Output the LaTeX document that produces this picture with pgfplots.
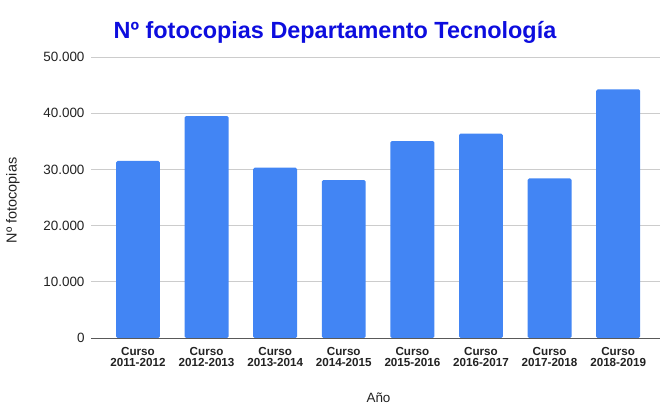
\documentclass[border=0pt]{standalone}
\usepackage{pgfplots}
\pgfplotsset{compat=1.18}
\usepackage{fontspec}
\setmainfont{Liberation Sans}
\definecolor{barblue}{HTML}{4285F4}
\definecolor{titleblue}{rgb}{0.05,0.05,0.87}
\definecolor{txt}{HTML}{222222}
\begin{document}
\begin{tikzpicture}[x=1bp,y=1bp]
\useasboundingbox (0,0) rectangle (661,404);
\node[font=\fontsize{23.5}{26}\selectfont\bfseries, text=titleblue, anchor=base] at (335,366) {Nº fotocopias Departamento Tecnología};
\begin{axis}[
  at={(91bp,66bp)}, anchor=south west,
  scale only axis, width=569bp, height=281bp,
  xmin=-0.685, xmax=7.61, ymin=0, ymax=50000,
  axis line style={draw=none},
  scaled ticks=false,
  ymajorgrids, grid style={draw=black!20, line width=0.8pt},
  ytick={0,10000,20000,30000,40000,50000},
  yticklabels={0,10.000,20.000,30.000,40.000,50.000},
  xtick={0,...,7},
  xticklabels={{Curso\\2011-2012},{Curso\\2012-2013},{Curso\\2013-2014},{Curso\\2014-2015},{Curso\\2015-2016},{Curso\\2016-2017},{Curso\\2017-2018},{Curso\\2018-2019}},
  major tick length=0pt,
  xticklabel style={font=\fontsize{11.7}{11.8}\selectfont\bfseries, align=center, text=txt, yshift=-5.5bp},
  yticklabel style={font=\fontsize{13.5}{15}\selectfont, text=txt, xshift=-3bp},
  ylabel={Nº fotocopias}, xlabel={Año},
  ylabel style={font=\fontsize{14.5}{16}\selectfont, text=txt, xshift=-3bp},
  xlabel style={font=\fontsize{13.5}{15}\selectfont, text=txt, xshift=3bp},
  xlabel shift=19bp,
  ylabel shift=17bp,
  clip=false,
]
\addplot[ybar, bar width=0.64, fill=barblue, draw=none, rounded corners=1.5bp] coordinates {
(0,31500) (1,39500) (2,30300) (3,28100) (4,35050) (5,36350) (6,28400) (7,44250)};
\draw[black!65, line width=0.9pt] (axis cs:-0.685,0) -- (axis cs:7.61,0);
\end{axis}
\end{tikzpicture}
\end{document}
